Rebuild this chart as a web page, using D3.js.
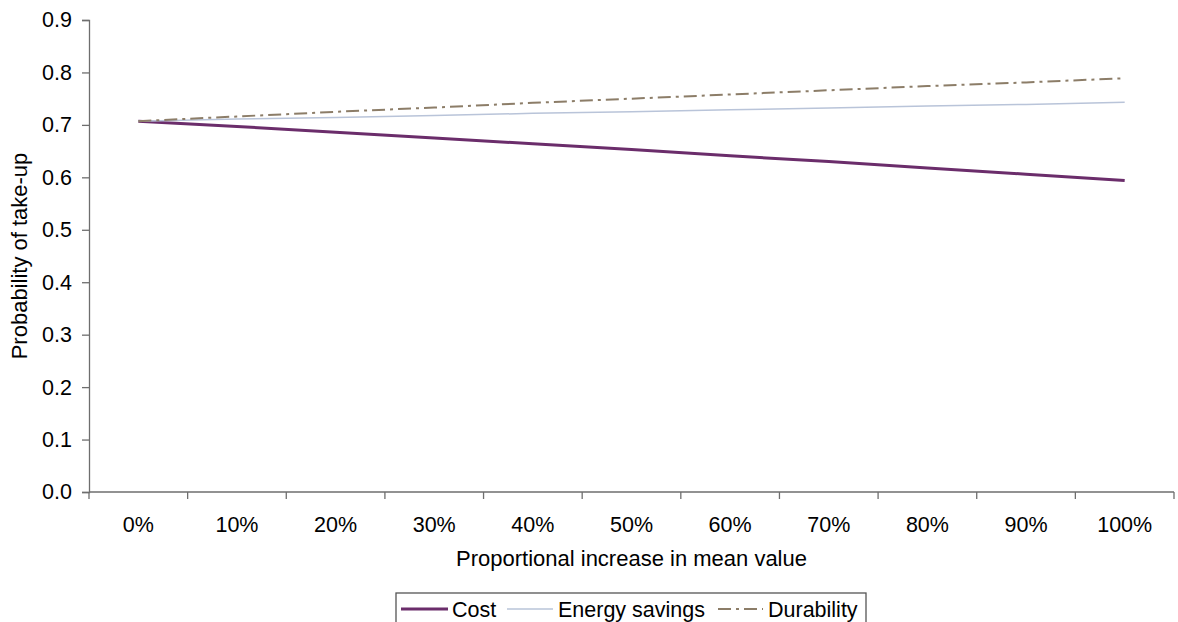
<!DOCTYPE html>
<html>
<head>
<meta charset="utf-8">
<script src="https://cdn.jsdelivr.net/npm/d3@7"></script>
<style>
  html, body { margin: 0; padding: 0; background: #fff; }
  svg { display: block; }
  text { font-family: "Liberation Sans", Arial, sans-serif; fill: #000; }
</style>
</head>
<body>
<svg id="chart" width="1178" height="622"></svg>
<script>
const categories = ["0%", "10%", "20%", "30%", "40%", "50%", "60%", "70%", "80%", "90%", "100%"];
const costValues = [0.707, 0.697, 0.686, 0.675, 0.664, 0.653, 0.641, 0.630, 0.618, 0.606, 0.594];
const energyValues = [0.707, 0.711, 0.714, 0.718, 0.722, 0.725, 0.729, 0.732, 0.736, 0.739, 0.743];
const durabilityValues = [0.707, 0.716, 0.725, 0.733, 0.742, 0.750, 0.758, 0.766, 0.774, 0.781, 0.789];
const yTicks = [0, 0.1, 0.2, 0.3, 0.4, 0.5, 0.6, 0.7, 0.8, 0.9];
const seriesNames = ["Cost", "Energy savings", "Durability"];

const series = [
  { name: seriesNames[0], values: costValues, color: "#6b2d6b", width: 3, dash: null },
  { name: seriesNames[1], values: energyValues, color: "#b9c4d9", width: 1.5, dash: null },
  { name: seriesNames[2], values: durabilityValues, color: "#8c7d68", width: 2, dash: "13,5,3,5" }
];

const svg = d3.select("#chart");
const mLeft = 89, mRight = 1174, mTop = 20, mBottom = 492;

const x = d3.scaleBand().domain(categories).range([mLeft, mRight]).padding(0);
const y = d3.scaleLinear().domain([0, 0.9]).range([mBottom, mTop]);

const axisColor = "#6e6e6e";

// Y axis
const yAxis = d3.axisLeft(y).tickValues(yTicks).tickFormat(d3.format(".1f")).tickSize(7).tickPadding(10);
const gy = svg.append("g").attr("transform", `translate(${mLeft},0)`).call(yAxis);
gy.select(".domain").attr("stroke", axisColor).attr("stroke-width", 1.3);
gy.selectAll(".tick line").attr("stroke", axisColor).attr("stroke-width", 1.3);
gy.selectAll(".tick text").attr("font-size", "21.5px").attr("font-family", "Liberation Sans, Arial, sans-serif").attr("fill", "#000");

// X axis: line + ticks at band boundaries
const gx = svg.append("g");
gx.append("line").attr("x1", mLeft).attr("x2", mRight).attr("y1", y(0)).attr("y2", y(0))
  .attr("stroke", axisColor).attr("stroke-width", 1.3);
const boundaries = categories.map(c => x(c)).concat([x(categories[categories.length - 1]) + x.bandwidth()]);
gx.selectAll("line.tk").data(boundaries).enter().append("line").attr("class", "tk")
  .attr("x1", d => d).attr("x2", d => d).attr("y1", y(0)).attr("y2", y(0) + 7)
  .attr("stroke", axisColor).attr("stroke-width", 1.3);
gx.selectAll("text.lbl").data(categories).enter().append("text").attr("class", "lbl")
  .attr("x", d => x(d) + x.bandwidth() / 2).attr("y", 532)
  .attr("text-anchor", "middle").attr("font-size", "21.5px").text(d => d);

// Axis titles
svg.append("text").attr("x", (mLeft + mRight) / 2).attr("y", 566).attr("text-anchor", "middle")
  .attr("font-size", "22px").text("Proportional increase in mean value");
svg.append("text").attr("transform", `translate(27,${(mTop + mBottom) / 2}) rotate(-90)`)
  .attr("text-anchor", "middle").attr("font-size", "22px").text("Probability of take-up");

// Lines
const line = d3.line().x((d, i) => x(categories[i]) + x.bandwidth() / 2).y(d => y(d));
series.forEach(s => {
  svg.append("path").datum(s.values).attr("d", line).attr("fill", "none")
    .attr("stroke", s.color).attr("stroke-width", s.width)
    .attr("stroke-dasharray", s.dash).attr("stroke-linejoin", "round");
});

// Legend
const lg = svg.append("g");
lg.append("rect").attr("x", 396).attr("y", 593).attr("width", 470).attr("height", 40)
  .attr("fill", "#fff").attr("stroke", "#555").attr("stroke-width", 1.3);
const legendPos = [
  { lx1: 401, lx2: 448, tx: 452 },
  { lx1: 507, lx2: 553, tx: 558 },
  { lx1: 718, lx2: 763, tx: 768 }
];
series.forEach((s, i) => {
  const p = legendPos[i];
  lg.append("line").attr("x1", p.lx1).attr("x2", p.lx2).attr("y1", 609).attr("y2", 609)
    .attr("stroke", s.color).attr("stroke-width", s.width).attr("stroke-dasharray", s.dash);
  lg.append("text").attr("x", p.tx).attr("y", 617).attr("font-size", "21.5px").text(s.name);
});
</script>
</body>
</html>
